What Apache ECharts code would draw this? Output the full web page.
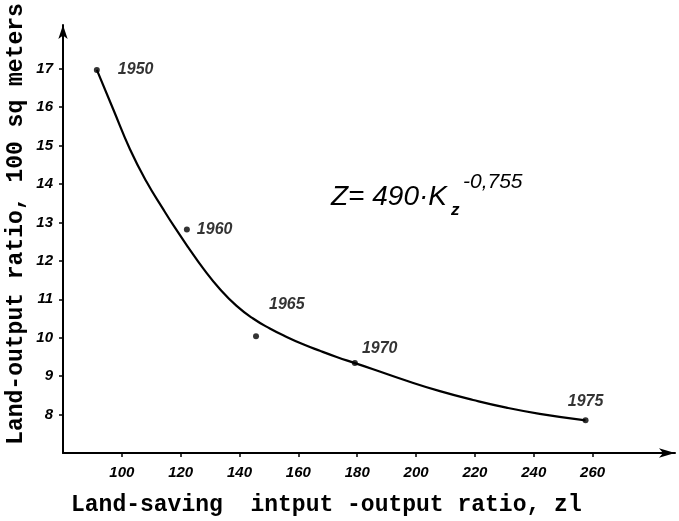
<!DOCTYPE html>
<html>
<head>
<meta charset="utf-8">
<script src="https://cdn.jsdelivr.net/npm/echarts@6/dist/echarts.min.js"></script>
<style>
  html, body { margin: 0; padding: 0; background: #fff; }
  #chart { width: 679px; height: 521px; }
</style>
</head>
<body>
<div id="chart"></div>
<script>
  // observed years (dots)
  const years = ['1950', '1960', '1965', '1970', '1975']
  const yearX = [91.5, 122.1, 145.6, 179.2, 257.6]
  const yearY = [16.97, 12.82, 10.04, 9.34, 7.85]

  // fitted curve
  const curveX = [91.5, 97.1, 102.8, 108.4, 114.1, 118.0, 122.5, 127.7, 133.3, 139.0, 144.6, 150.3, 156.0, 161.6, 167.3, 173.0, 179.2, 185.4, 196.8, 208.1, 219.4, 230.7, 242.0, 257.6]
  const curveY = [16.97, 15.94, 14.90, 14.06, 13.34, 12.87, 12.36, 11.80, 11.27, 10.83, 10.50, 10.24, 10.02, 9.83, 9.66, 9.50, 9.34, 9.18, 8.88, 8.61, 8.38, 8.18, 8.02, 7.85]

  const xTicks = [100, 120, 140, 160, 180, 200, 220, 240, 260]
  const yTicks = [8, 9, 10, 11, 12, 13, 14, 15, 16, 17]

  const hand = 'Liberation Sans'
  const mono = 'Liberation Mono'

  // label placement for each year, by index
  const labelPlace = [
    { position: 'right', distance: 18, offset: [0, 0] },
    { position: 'right', distance: 7, offset: [0, 0] },
    { position: 'right', distance: 8, offset: [2, -32] },
    { position: 'right', distance: 4, offset: [0, -15] },
    { position: 'top', distance: 8, offset: [0, 0] }
  ]

  const chart = echarts.init(document.getElementById('chart'))
  chart.setOption({
    animation: false,
    backgroundColor: '#fff',
    grid: { left: 63, right: 4, top: 25, bottom: 68 },
    xAxis: {
      type: 'value',
      min: 80,
      max: 288,
      axisLine: { onZero: false, symbol: ['none', 'arrow'], symbolSize: [7, 16], lineStyle: { color: '#000', width: 2 } },
      axisTick: { show: true, customValues: xTicks, length: 4, lineStyle: { color: '#000', width: 1.5 } },
      axisLabel: { customValues: xTicks, margin: 12, color: '#000', fontFamily: hand, fontStyle: 'italic', fontWeight: 'bold', fontSize: 15 },
      splitLine: { show: false }
    },
    yAxis: {
      type: 'value',
      min: 7,
      max: 18.14,
      axisLine: { onZero: false, symbol: ['none', 'arrow'], symbolSize: [7, 14], lineStyle: { color: '#000', width: 2 } },
      axisTick: { show: true, customValues: yTicks, length: 4, lineStyle: { color: '#000', width: 1.5 } },
      axisLabel: { customValues: yTicks, margin: 10, color: '#000', fontFamily: hand, fontStyle: 'italic', fontWeight: 'bold', fontSize: 15 },
      splitLine: { show: false }
    },
    series: [
      {
        type: 'line',
        smooth: 0.5,
        showSymbol: false,
        lineStyle: { color: '#000', width: 2.2 },
        data: curveX.map((x, i) => [x, curveY[i]])
      },
      {
        type: 'scatter',
        symbolSize: 6,
        itemStyle: { color: '#000' },
        data: yearX.map((x, i) => ({
          value: [x, yearY[i]],
          name: years[i],
          label: {
            show: true,
            formatter: years[i],
            position: labelPlace[i].position,
            distance: labelPlace[i].distance,
            offset: labelPlace[i].offset,
            color: '#000',
            fontFamily: hand,
            fontStyle: 'italic',
            fontWeight: 'bold',
            fontSize: 16
          }
        }))
      }
    ],
    graphic: [
      { type: 'text', left: 331, top: 183, style: { text: 'Z= 490·K', fontFamily: hand, fontStyle: 'italic', fontSize: 28, fill: '#000' } },
      { type: 'text', left: 451, top: 202, style: { text: 'z', fontFamily: hand, fontStyle: 'italic', fontWeight: 'bold', fontSize: 17, fill: '#000' } },
      { type: 'text', left: 463, top: 172, style: { text: '-0,755', fontFamily: hand, fontStyle: 'italic', fontSize: 21, fill: '#000' } },
      { type: 'text', left: 71, top: 494, style: { text: 'Land-saving  intput -output ratio, zl', fontFamily: mono, fontWeight: 'bold', fontSize: 23, fill: '#000' } },
      { type: 'text', x: 16, y: 224, rotation: Math.PI / 2, style: { text: 'Land-output ratio, 100 sq meters', fontFamily: mono, fontWeight: 'bold', fontSize: 23, fill: '#000', align: 'center', verticalAlign: 'middle' } }
    ]
  })
</script>
</body>
</html>
